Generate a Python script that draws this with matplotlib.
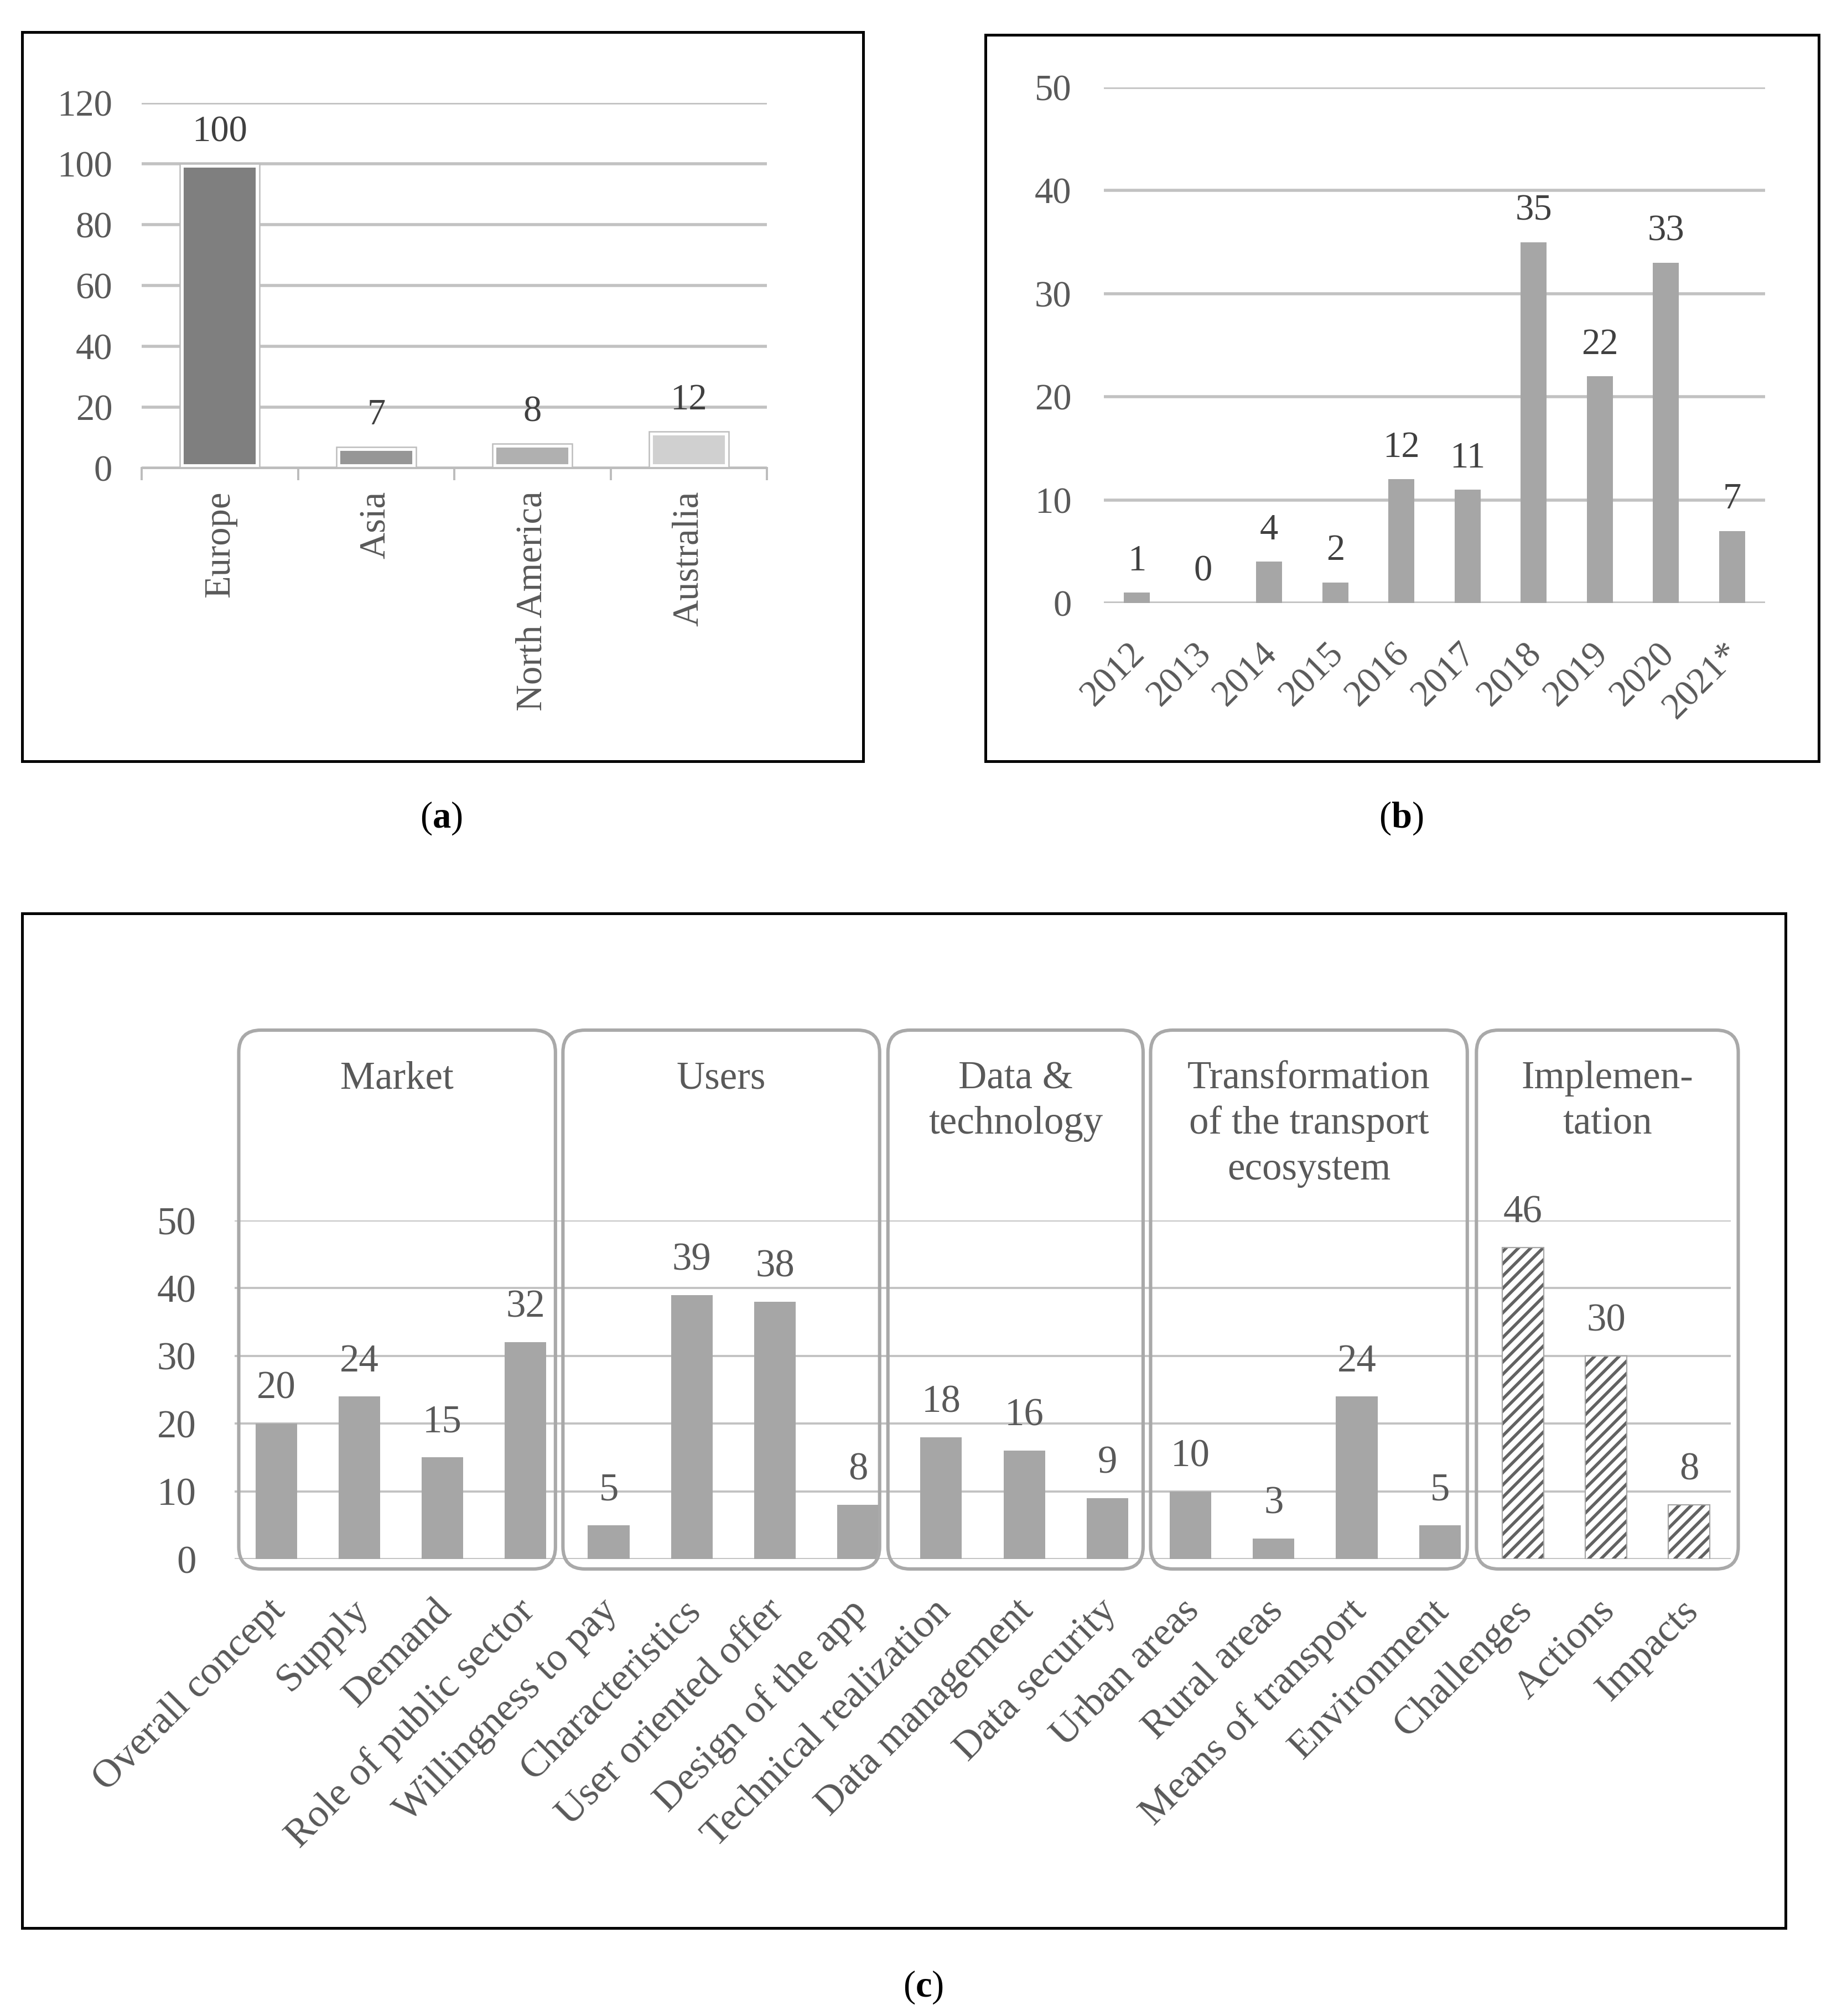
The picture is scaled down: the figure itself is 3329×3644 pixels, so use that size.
import matplotlib
matplotlib.use("Agg")
import matplotlib.pyplot as plt
from matplotlib.patches import Rectangle, FancyBboxPatch
from matplotlib.transforms import ScaledTranslation, blended_transform_factory
import numpy as np

# ---------------- data ----------------
regions = ["Europe", "Asia", "North America", "Australia"]
region_counts = [100, 7, 8, 12]
region_colors = ["#7f7f7f", "#969696", "#b0b0b0", "#d0d0d0"]

years = ["2012", "2013", "2014", "2015", "2016", "2017", "2018", "2019", "2020", "2021*"]
year_counts = [1, 0, 4, 2, 12, 11, 35, 22, 33, 7]

topics = ["Overall concept", "Supply", "Demand", "Role of public sector",
          "Willingness to pay", "Characteristics", "User oriented offer", "Design of the app",
          "Technical realization", "Data management", "Data security",
          "Urban areas", "Rural areas", "Means of transport", "Environment",
          "Challenges", "Actions", "Impacts"]
topic_counts = [20, 24, 15, 32, 5, 39, 38, 8, 18, 16, 9, 10, 3, 24, 5, 46, 30, 8]
groups = ["Market", "Users", "Data &\ntechnology",
          "Transformation\nof the transport\necosystem", "Implemen-\ntation"]
group_sizes = [4, 4, 3, 4, 3]
hatched_groups = ["Implemen-\ntation"]

# layout of the hand-drawn group frames (padding beyond first/last bar, in bar slots)
box_left_pad = [0.45, 0.55, 0.64, 0.48, 0.56]
box_right_pad = [0.36, 0.26, 0.43, 0.33, 0.59]

# ---------------- style ----------------
W, H, DPI = 3329, 3644, 200
plt.rcParams["font.family"] = ["Liberation Serif", "DejaVu Serif"]
plt.rcParams["mathtext.fontset"] = "custom"
plt.rcParams["mathtext.rm"] = "Liberation Serif"
plt.rcParams["mathtext.bf"] = "Liberation Serif:bold"
plt.rcParams["hatch.linewidth"] = 2.0

TXT = "#595959"
VAL = "#404040"
GRID = "#c2c2c2"
BAR = "#a6a6a6"

fig = plt.figure(figsize=(W / DPI, H / DPI), dpi=DPI)
fig.patch.set_facecolor("white")


def px_rect(x0, y0, x1, y1):
    return [x0 / W, 1 - y1 / H, (x1 - x0) / W, (y1 - y0) / H]


def frame(x0, y0, x1, y1):
    fig.patches.append(Rectangle((x0 / W, 1 - y1 / H), (x1 - x0) / W, (y1 - y0) / H,
                                 transform=fig.transFigure, fill=False,
                                 edgecolor="black", linewidth=1.8))


def clean(ax, glw=2.0):
    for s in ax.spines.values():
        s.set_visible(False)
    ax.set_axisbelow(True)
    ax.yaxis.grid(True, color=GRID, linewidth=glw)
    ax.tick_params(axis="y", length=0, labelsize=24, labelcolor=TXT)


def shift_labels(ax, dx_pt):
    off = ScaledTranslation(dx_pt / 72, 0, fig.dpi_scale_trans)
    for lab in ax.get_xticklabels():
        lab.set_transform(lab.get_transform() + off)


# ---------------- frames ----------------
frame(40, 58, 1560, 1376)
frame(1781, 63, 3287, 1376)
frame(40, 1651, 3227, 3485)

# ---------------- panel (a) ----------------
ax_a = fig.add_axes(px_rect(256, 186, 1386, 846))
clean(ax_a)
xa = np.arange(len(regions))
bars = ax_a.bar(xa, region_counts, width=0.51, color=region_colors,
                edgecolor="white", linewidth=5, zorder=2)
for p in bars:
    p.set_clip_path(p)
ax_a.bar(xa, region_counts, width=0.51, fill=False, edgecolor="#bdbdbd",
         linewidth=0.9, zorder=3)
ax_a.set_ylim(0, 120)
ax_a.set_xlim(-0.5, len(regions) - 0.5)
ax_a.set_yticks(np.arange(0, 121, 20))
ax_a.spines["bottom"].set_visible(True)
ax_a.spines["bottom"].set_color("#bcbcbc")
ax_a.spines["bottom"].set_linewidth(1.4)
ax_a.set_xticks(xa)
ax_a.set_xticklabels(regions, rotation=90, fontsize=24, color=TXT)
ax_a.set_xticks(np.arange(-0.5, len(regions), 1.0), minor=True)
ax_a.tick_params(axis="x", which="major", length=0, pad=15)
ax_a.tick_params(axis="x", which="minor", length=8, width=1.4, color="#bcbcbc", direction="out")
ax_a.tick_params(axis="y", pad=19)
for i, v in enumerate(region_counts):
    ax_a.annotate(str(v), (i, v), xytext=(0, 9.5), textcoords="offset points",
                  ha="center", va="bottom", fontsize=24, color=VAL)

# ---------------- panel (b) ----------------
ax_b = fig.add_axes(px_rect(1995, 158, 3190, 1090))
clean(ax_b)
xb = np.arange(len(years))
ax_b.bar(xb, year_counts, width=0.39, color=BAR, zorder=2)
ax_b.set_ylim(0, 50)
ax_b.set_xlim(-0.5, len(years) - 0.5)
ax_b.set_yticks(np.arange(0, 51, 10))
ax_b.set_xticks(xb)
ax_b.set_xticklabels(years, rotation=45, ha="right", va="top", rotation_mode="anchor",
                     fontsize=24, color=TXT)
ax_b.tick_params(axis="x", length=0, pad=22)
ax_b.tick_params(axis="y", pad=21)
shift_labels(ax_b, -6)
for i, v in enumerate(year_counts):
    ax_b.annotate(str(v), (i, v), xytext=(0, 9.5), textcoords="offset points",
                  ha="center", va="bottom", fontsize=24, color=VAL)

# ---------------- panel (c) ----------------
ax_c = fig.add_axes(px_rect(424, 2206, 3128, 2818))
clean(ax_c, glw=1.4)
ax_c.tick_params(axis="y", labelsize=25.5)
xc = np.arange(len(topics))
grp_of = []
for g, n in zip(groups, group_sizes):
    grp_of += [g] * n
for i, (v, g) in enumerate(zip(topic_counts, grp_of)):
    if g in hatched_groups:
        ax_c.bar(i, v, width=0.5, facecolor="white", edgecolor="#626262",
                 linewidth=0, hatch="///", zorder=2)
        ax_c.bar(i, v, width=0.5, fill=False, edgecolor="#a6a6a6", linewidth=0.8, zorder=3)
    else:
        ax_c.bar(i, v, width=0.5, color=BAR, zorder=2)
ax_c.set_ylim(0, 50)
ax_c.set_xlim(-0.5, len(topics) - 0.5)
ax_c.set_yticks(np.arange(0, 51, 10))
ax_c.set_xticks(xc)
ax_c.set_xticklabels(topics, rotation=45, ha="right", va="top", rotation_mode="anchor",
                     fontsize=26, color=TXT)
ax_c.tick_params(axis="x", length=0, pad=22)
ax_c.tick_params(axis="y", pad=25)
shift_labels(ax_c, -6)
for i, v in enumerate(topic_counts):
    ax_c.annotate(str(v), (i, v), xytext=(0, 11), textcoords="offset points",
                  ha="center", va="bottom", fontsize=25.5, color=TXT)

# group boxes (rounded) and titles
ax_px_w = (3128 - 424)
ax_px_h = (2818 - 2206)
sx = ax_px_w / (len(topics))          # px per x unit
sy = ax_px_h / 50.0                   # px per y unit
r_px = 40
btop = (2818 - 1862) / sy
bbot = (2818 - 2836) / sy
tr = blended_transform_factory(ax_c.transData, fig.transFigure)
start = 0
for k, (g, n) in enumerate(zip(groups, group_sizes)):
    first, last = start, start + n - 1
    left = first - box_left_pad[k]
    right = last + box_right_pad[k]
    box = FancyBboxPatch((left, bbot), right - left, btop - bbot,
                         boxstyle=f"round,pad=0,rounding_size={r_px / sx}",
                         mutation_aspect=sx / sy,
                         transform=ax_c.transData, clip_on=False,
                         facecolor="none", edgecolor="#a9a9a9", linewidth=2.2, zorder=4)
    ax_c.add_patch(box)
    cx = (left + right) / 2
    for j, line in enumerate(g.split("\n")):
        ypx = 1967 + j * 82.5
        ax_c.text(cx, 1 - ypx / H, line, transform=tr, ha="center", va="baseline",
                  fontsize=25.5, color=TXT)
    start += n

# ---------------- panel labels ----------------
for lab, (x, y) in zip(["a", "b", "c"], [(797, 1479), (2532, 1479), (1669, 3592)]):
    fig.text(x / W, 1 - y / H, "(" + r"$\mathbf{" + lab + "}$" + ")", ha="center",
             va="center", fontsize=24, color="black")

fig.savefig("out.png", dpi=DPI, facecolor="white")
